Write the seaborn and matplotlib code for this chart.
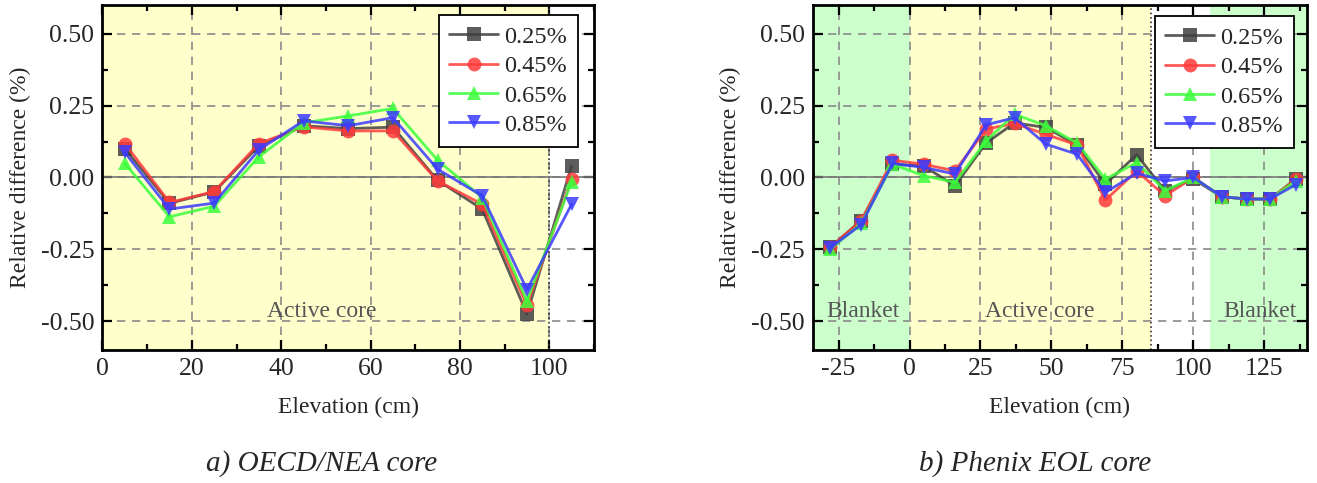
import numpy as np
import pandas as pd
import matplotlib
matplotlib.use("Agg")
import matplotlib.pyplot as plt
from matplotlib.ticker import MultipleLocator
import seaborn as sns

# data
conc = ["0.25%", "0.45%", "0.65%", "0.85%"]

elev_a = [5, 15, 25, 35, 45, 55, 65, 75, 85, 95, 105]
a_025 = [0.100, -0.090, -0.050, 0.110, 0.180, 0.170, 0.175, -0.010, -0.110, -0.475, 0.040]
a_045 = [0.118, -0.087, -0.049, 0.118, 0.176, 0.162, 0.162, -0.012, -0.093, -0.445, -0.006]
a_065 = [0.049, -0.137, -0.100, 0.072, 0.190, 0.214, 0.240, 0.060, -0.070, -0.430, -0.014]
a_085 = [0.087, -0.110, -0.089, 0.096, 0.197, 0.180, 0.208, 0.029, -0.064, -0.390, -0.093]

elev_b = [-28, -17, -6, 5, 16, 27, 37, 48, 59, 69, 80, 90, 100, 110, 119, 127, 136]
b_025 = [-0.243, -0.150, 0.046, 0.040, -0.029, 0.120, 0.190, 0.174, 0.113, -0.023, 0.079, -0.046, -0.006, -0.067, -0.075, -0.075, -0.006]
b_045 = [-0.243, -0.150, 0.060, 0.046, 0.023, 0.168, 0.188, 0.150, 0.113, -0.079, 0.023, -0.064, 0.000, -0.067, -0.075, -0.075, -0.006]
b_065 = [-0.250, -0.160, 0.046, 0.006, -0.017, 0.127, 0.220, 0.180, 0.120, -0.006, 0.052, -0.046, 0.000, -0.067, -0.075, -0.075, -0.012]
b_085 = [-0.245, -0.164, 0.049, 0.035, 0.012, 0.183, 0.208, 0.116, 0.081, -0.052, 0.015, -0.012, 0.000, -0.067, -0.075, -0.075, -0.025]

# zones (cm)
core_a = (0, 100)
blanket_low_b = (-40, 0)
core_b = (0, 85)
blanket_up_b = (106, 150)


def long_df(x, series):
    rows = []
    for name, vals in zip(conc, series):
        for xi, yi in zip(x, vals):
            rows.append({"elev": xi, "diff": yi, "conc": name})
    return pd.DataFrame(rows)


df_a = long_df(elev_a, [a_025, a_045, a_065, a_085])
df_b = long_df(elev_b, [b_025, b_045, b_065, b_085])

sns.set_theme(style="white")
plt.rcParams["font.family"] = ["Liberation Serif", "DejaVu Serif"]
plt.rcParams["axes.unicode_minus"] = False

palette = {"0.25%": "#404040", "0.45%": "#ff3b3b", "0.65%": "#3bff3b", "0.85%": "#3b3bff"}
markers = {"0.25%": "s", "0.45%": "o", "0.65%": "^", "0.85%": "v"}

yellow = "#ffffcc"
green = "#ccffcc"
txt_c = "#555555"

fig = plt.figure(figsize=(13.17, 4.83), dpi=100)
ax1 = fig.add_axes([0.0778, 0.2754, 0.3732, 0.7143])
ax2 = fig.add_axes([0.6173, 0.2754, 0.3751, 0.7143])


def style_axes(ax):
    ax.set_ylim(-0.6, 0.6)
    ax.yaxis.set_major_locator(MultipleLocator(0.25))
    ax.yaxis.set_minor_locator(MultipleLocator(0.125))
    ax.yaxis.set_major_formatter(matplotlib.ticker.FormatStrFormatter("%.2f"))
    ax.grid(True, which="major", color="#8a8a8a", linestyle=(0, (5, 4)), linewidth=1.2)
    ax.set_axisbelow(True)
    ax.axhline(0, color="#777777", linewidth=1.2, zorder=1)
    ax.tick_params(which="both", direction="in", top=True, right=True, bottom=True, left=True,
                   labelsize=18.5, width=1.6, color="black", pad=6)
    ax.tick_params(which="major", length=7)
    ax.tick_params(which="minor", length=4)
    for s in ax.spines.values():
        s.set_linewidth(2)
        s.set_color("black")
    ax.set_xlabel("Elevation (cm)", fontsize=17, labelpad=12)
    ax.set_ylabel("Relative difference (%)", fontsize=17, labelpad=7)


def draw(ax, df, anchor):
    sns.lineplot(data=df, x="elev", y="diff", hue="conc", style="conc", palette=palette,
                 markers=markers, dashes=False, markersize=10, linewidth=2, alpha=0.85,
                 markeredgewidth=0, ax=ax, zorder=3)
    sns.move_legend(ax, "upper right", bbox_to_anchor=anchor, title=None, frameon=True,
                    fontsize=17.5, fancybox=False, framealpha=1, edgecolor="black",
                    handlelength=2.0, labelspacing=0.3, borderpad=0.45, borderaxespad=0,
                    handletextpad=0.25)
    ax.get_legend().get_frame().set_linewidth(1.3)


# a) OECD/NEA core
ax1.axvspan(*core_a, color=yellow, zorder=0, linewidth=0)
ax1.axvline(core_a[1], color="#333333", linestyle=":", linewidth=1.2, zorder=1)
draw(ax1, df_a, (0.9675, 0.971))
ax1.set_xlim(0, 110)
ax1.xaxis.set_major_locator(MultipleLocator(20))
ax1.xaxis.set_minor_locator(MultipleLocator(10))
style_axes(ax1)
ax1.text(49, -0.465, "Active core", ha="center", va="center", fontsize=17, color=txt_c)

# b) Phenix EOL core
ax2.axvspan(*blanket_low_b, color=green, zorder=0, linewidth=0)
ax2.axvspan(*core_b, color=yellow, zorder=0, linewidth=0)
ax2.axvspan(*blanket_up_b, color=green, zorder=0, linewidth=0)
ax2.axvline(core_b[1], color="#333333", linestyle=":", linewidth=1.2, zorder=1)
draw(ax2, df_b, (0.9737, 0.968))
ax2.set_xlim(-34, 140)
ax2.xaxis.set_major_locator(MultipleLocator(25))
ax2.xaxis.set_minor_locator(MultipleLocator(12.5))
style_axes(ax2)
ax2.text(-16.5, -0.465, "Blanket", ha="center", va="center", fontsize=17, color=txt_c)
ax2.text(46, -0.465, "Active core", ha="center", va="center", fontsize=17, color=txt_c)
ax2.text(123.5, -0.465, "Blanket", ha="center", va="center", fontsize=17, color=txt_c)

fig.text(0.2445, 0.041, "a) OECD/NEA core", ha="center", va="center", fontsize=21, style="italic")
fig.text(0.786, 0.041, "b) Phenix EOL core", ha="center", va="center", fontsize=21, style="italic")

fig.savefig("out.png", dpi=100)
print("finished.")
